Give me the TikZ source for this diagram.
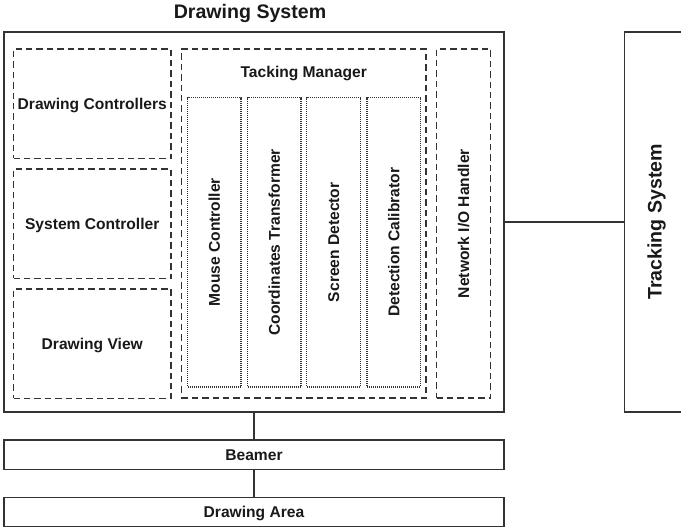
\documentclass[tikz,border=0pt]{standalone}
\usepackage{fontspec}
\setmainfont{Liberation Sans}
\begin{document}
\begin{tikzpicture}[x=0.75pt,y=-0.75pt,
  every node/.style={inner sep=0pt, font=\fontsize{11.7}{14}\selectfont\bfseries, text=black!90, text height=8.4pt, text depth=0pt},
  solidbox/.style={draw=black!80, line width=1.1pt, rectangle},
  dashbox/.style={draw=black!80, line width=1.1pt, rectangle, dash pattern=on 4.8pt off 3pt},
  dotbox/.style={draw=black!80, line width=0.9pt, rectangle, dash pattern=on 0.75pt off 0.75pt},
  link/.style={draw=black!80, line width=1.1pt},
  bigtext/.style={font=\fontsize{14.7}{17}\selectfont\bfseries, text height=10.5pt}]
\useasboundingbox (0,0) rectangle (681,531);
\clip (0,0) rectangle (681,531);
% title
\node[bigtext] (title) at (250,11.5) {Drawing System};
% outer system box
\node[solidbox, minimum width=375pt, minimum height=285pt] (ds) at (254,222) {};
% left column
\node[dashbox, minimum width=118.1pt, minimum height=82.1pt] (dc) at (92.25,103.75) {Drawing Controllers};
\node[dashbox, minimum width=118.1pt, minimum height=82.1pt] (sc) at (92.25,223.75) {System Controller};
\node[dashbox, minimum width=118.1pt, minimum height=82.1pt] (dv) at (92.25,343.5) {Drawing View};
% tracking manager
\node[dashbox, minimum width=183.4pt, minimum height=261.75pt] (tm) at (303.75,223.5) {};
\node (tmlabel) at (303.75,72) {Tacking Manager};
\node[dotbox, minimum width=40.1pt, minimum height=217.1pt] (mc) at (214.25,242.25) {};
\node[dotbox, minimum width=40.1pt, minimum height=217.1pt] (ct) at (274.25,242.25) {};
\node[dotbox, minimum width=40.1pt, minimum height=217.1pt] (sd) at (333.5,242.25) {};
\node[dotbox, minimum width=40.1pt, minimum height=217.1pt] (dcal) at (393.75,242.25) {};
\node[rotate=90] (mct) at (mc) {Mouse Controller};
\node[rotate=90] (ctt) at (ct) {Coordinates Transformer};
\node[rotate=90] (sdt) at (sd) {Screen Detector};
\node[rotate=90] (dcalt) at (dcal) {Detection Calibrator};
% network handler
\node[dashbox, minimum width=40.5pt, minimum height=261.75pt] (nio) at (463.5,223.5) {};
\node[rotate=90] (niot) at (nio) {Network I/O Handler};
% tracking system
\node[solidbox, minimum width=45pt, minimum height=285pt] (ts) at (654.5,222) {};
\node[rotate=90, bigtext] (tst) at (ts) {Tracking System};
% beamer and drawing area
\node[solidbox, minimum width=375pt, minimum height=22.1pt] (beamer) at (254,454.75) {Beamer};
\node[solidbox, minimum width=375pt, minimum height=21.75pt] (area) at (254,512) {Drawing Area};
% connectors
\draw[link] (ds.east) -- (ts.west);
\draw[link] (ds.south) -- (beamer.north);
\draw[link] (beamer.south) -- (area.north);
\end{tikzpicture}
\end{document}
